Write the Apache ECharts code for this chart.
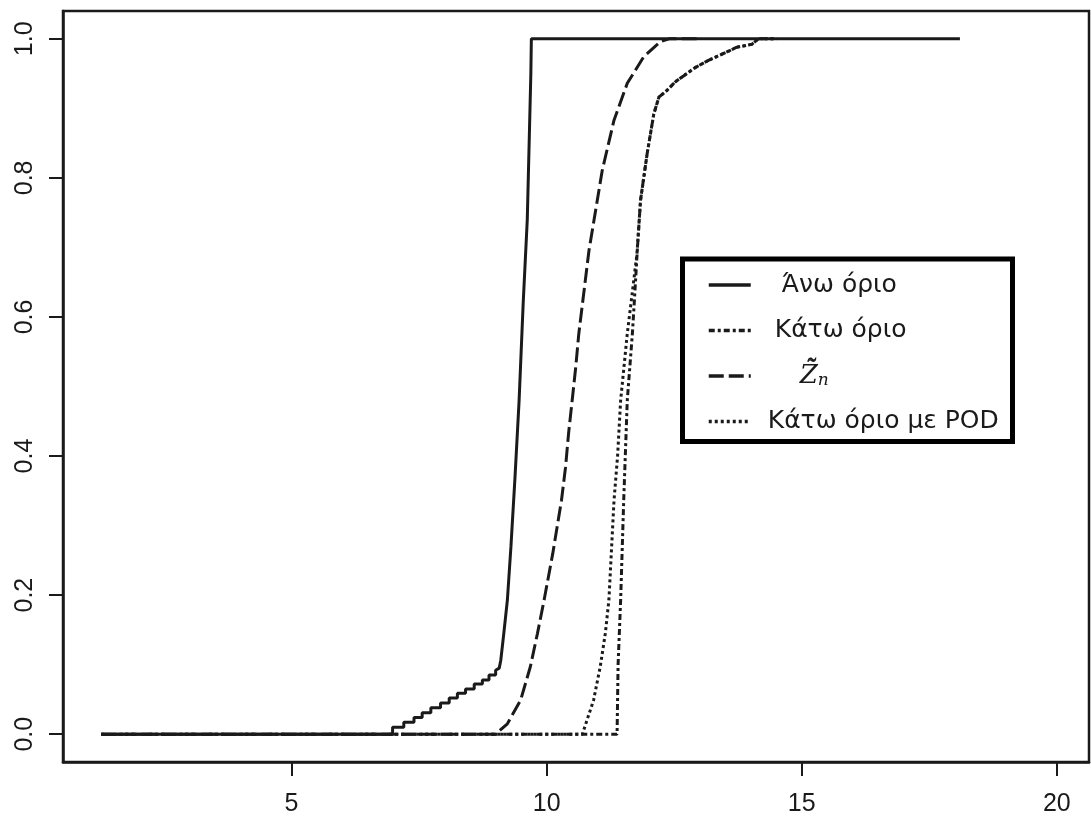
<!DOCTYPE html>
<html>
<head>
<meta charset="utf-8">
<script src="https://cdn.jsdelivr.net/npm/echarts@6/dist/echarts.min.js"></script>
<style>
  html, body { margin: 0; padding: 0; background: #fff; }
  #chart { width: 1091px; height: 819px; }
</style>
</head>
<body>
<div id="chart"></div>
<script>
// Axis ticks
const xTicks = [5, 10, 15, 20];
const yTicks = [0, 0.2, 0.4, 0.6, 0.8, 1.0];

// Upper bound: flat start, a small staircase, then a sharp rise to 1
const upperStart = [[1.27, 0], [6.98, 0]];
const upperStairX = [6.98, 7.20, 7.40, 7.56, 7.73, 7.92, 8.09, 8.25, 8.41, 8.58, 8.74, 8.87, 9.00];
const upperStairY = [0.010, 0.017, 0.024, 0.031, 0.038, 0.045, 0.052, 0.059, 0.065, 0.072, 0.078, 0.085, 0.092];
const upperRise = [
  [9.07, 0.095], [9.10, 0.106], [9.16, 0.145], [9.23, 0.193], [9.30, 0.27],
  [9.38, 0.37], [9.46, 0.48], [9.54, 0.62], [9.62, 0.74], [9.66, 0.86],
  [9.69, 0.95], [9.70, 1.0], [18.1, 1.0]
];

// Estimator Z~n
const zn = [
  [1.27, 0], [9.0, 0], [9.23, 0.015], [9.49, 0.049], [9.68, 0.097], [9.82, 0.145],
  [9.95, 0.193], [10.12, 0.26], [10.29, 0.336], [10.37, 0.384], [10.43, 0.433],
  [10.50, 0.48], [10.57, 0.528], [10.63, 0.576], [10.71, 0.624], [10.83, 0.696],
  [11.09, 0.811], [11.32, 0.883], [11.58, 0.936], [11.90, 0.974], [12.23, 0.996],
  [12.40, 1.0], [13.0, 1.0]
];

// Shared upper tail of both lower bounds
const lowerTail = [
  [11.84, 0.768], [11.97, 0.835], [12.10, 0.892], [12.20, 0.916], [12.36, 0.926],
  [12.52, 0.938], [12.69, 0.947], [12.92, 0.959], [13.17, 0.969], [13.47, 0.979],
  [13.73, 0.988], [14.02, 0.992], [14.15, 1.0], [14.5, 1.0]
];

// Lower bound
const lowerHead = [
  [1.27, 0], [11.38, 0], [11.40, 0.10], [11.45, 0.193], [11.51, 0.336],
  [11.58, 0.48], [11.68, 0.576], [11.72, 0.624], [11.78, 0.70]
];

// Lower bound with POD
const lowerPodHead = [
  [1.27, 0], [10.70, 0], [10.92, 0.049], [11.05, 0.097], [11.15, 0.145],
  [11.22, 0.193], [11.32, 0.336], [11.39, 0.40], [11.45, 0.48], [11.58, 0.576],
  [11.66, 0.624], [11.77, 0.691]
];

// Build the upper-bound path with explicit steps
const upper = upperStart.slice();
let prev = 0;
upperStairX.forEach((x, i) => {
  upper.push([x, prev]);
  upper.push([x, upperStairY[i]]);
  prev = upperStairY[i];
});
upper.push(...upperRise);

const lower = lowerHead.concat(lowerTail);
const lowerPod = lowerPodHead.concat(lowerTail);

const names = ['Άνω όριο', 'Κάτω όριο', 'Zn', 'Κάτω όριο με POD'];
const ink = '#1a1a1a';
const tickFont = '"Liberation Sans Narrow", "Liberation Sans", Arial, sans-serif';
const legendFont = '"DejaVu Sans", "Noto Sans", sans-serif';

const chart = echarts.init(document.getElementById('chart'), null, { renderer: 'canvas' });

function lineSeries(name, data, dash, width) {
  return {
    name, type: 'line', data,
    symbol: 'none', showSymbol: false, smooth: false,
    lineStyle: { color: ink, width: width, type: dash },
    itemStyle: { color: ink },
    emphasis: { disabled: true },
    z: 3
  };
}

chart.setOption({
  animation: false,
  backgroundColor: '#fff',
  grid: {
    left: 63, right: 2, top: 11, bottom: 57,
    show: true, borderColor: ink, borderWidth: 2.5, backgroundColor: 'transparent'
  },
  xAxis: {
    type: 'value', min: 0.52, max: 20.63,
    splitLine: { show: false },
    axisLine: { show: true, onZero: false, lineStyle: { color: ink, width: 2.5 } },
    axisTick: { show: true, inside: false, length: 14, customValues: xTicks, lineStyle: { color: ink, width: 2 } },
    axisLabel: {
      customValues: xTicks, margin: 30, color: ink,
      fontFamily: tickFont, fontSize: 25, formatter: v => String(v)
    }
  },
  yAxis: {
    type: 'value', min: -0.04, max: 1.04,
    splitLine: { show: false },
    axisLine: { show: true, onZero: false, lineStyle: { color: ink, width: 2.5 } },
    axisTick: { show: true, inside: false, length: 14, customValues: yTicks, lineStyle: { color: ink, width: 2 } },
    axisLabel: {
      customValues: yTicks, rotate: 90, margin: 25, color: ink,
      fontFamily: tickFont, fontSize: 25, formatter: v => v.toFixed(1)
    }
  },
  legend: {
    orient: 'vertical', left: 707, top: 272, padding: 0,
    itemWidth: 42, itemHeight: 14, itemGap: 19.5,
    data: names,
    itemStyle: { opacity: 0, borderWidth: 0 },
    lineStyle: { width: 3.5 },
    formatter: function (name) {
      if (name === 'Άνω όριο') return '{a|Άνω όριο}';
      if (name === 'Κάτω όριο') return '{b|Κάτω όριο}';
      if (name === 'Zn') return '{z|Z\u0303\u0303}{n|n}';
      return '{d|Κάτω όριο με POD}';
    },
    textStyle: {
      color: ink, fontFamily: legendFont, fontSize: 25, lineHeight: 26,
      rich: {
        a: { fontFamily: legendFont, fontSize: 25, lineHeight: 26, padding: [0, 0, 0, 26], color: ink },
        b: { fontFamily: legendFont, fontSize: 25, lineHeight: 26, padding: [0, 0, 0, 19], color: ink },
        d: { fontFamily: legendFont, fontSize: 25, lineHeight: 26, padding: [0, 0, 0, 12], color: ink },
        z: { fontFamily: '"DejaVu Serif", serif', fontStyle: 'italic', fontSize: 26, lineHeight: 26, padding: [0, 0, 0, 44], color: ink },
        n: { fontFamily: '"DejaVu Serif", serif', fontStyle: 'italic', fontSize: 17, lineHeight: 14, verticalAlign: 'bottom', color: ink }
      }
    },
    z: 6
  },
  graphic: [{
    type: 'rect', z: 5,
    shape: { x: 682.5, y: 259, width: 330, height: 182.5 },
    style: { fill: '#fff', stroke: '#000', lineWidth: 5 }
  }],
  series: [
    lineSeries('Άνω όριο', upper, 'solid', 3),
    lineSeries('Κάτω όριο', lower, [6, 3, 3, 3], 3),
    lineSeries('Zn', zn, [15, 5], 3),
    lineSeries('Κάτω όριο με POD', lowerPod, [3, 3], 3)
  ]
});
</script>
</body>
</html>
